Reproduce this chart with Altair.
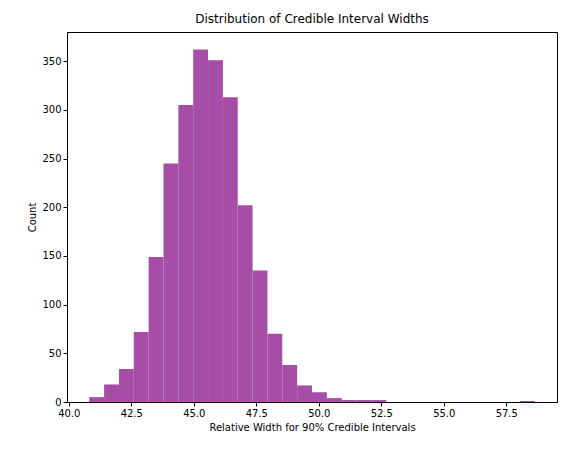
import pandas as pd
import altair as alt

bin_start = [40.820, 41.414, 42.008, 42.602, 43.196, 43.790, 44.384, 44.978, 45.572, 46.166,
             46.760, 47.354, 47.948, 48.542, 49.136, 49.730, 50.324, 50.918, 51.512, 52.106,
             52.700, 53.294, 53.888, 54.482, 55.076, 55.670, 56.264, 56.858, 57.452, 58.046]
bin_width = 0.594
counts = [5, 18, 34, 72, 149, 245, 305, 362, 351, 313,
          202, 135, 70, 38, 17, 10, 4, 2, 2, 2,
          0, 0, 0, 0, 0, 0, 0, 0, 0, 1]

df = pd.DataFrame({'lo': bin_start, 'count': counts})
df['hi'] = df['lo'] + bin_width

chart = alt.Chart(df).mark_rect(color='#a64da6').encode(
    x=alt.X('lo:Q', scale=alt.Scale(domain=[39.93, 59.53], nice=False, zero=False),
            axis=alt.Axis(values=[40.0, 42.5, 45.0, 47.5, 50.0, 52.5, 55.0, 57.5], format='.1f'),
            title='Relative Width for 90% Credible Intervals'),
    x2='hi:Q',
    y=alt.Y('count:Q', scale=alt.Scale(domain=[0, 380], nice=False),
            axis=alt.Axis(values=list(range(0, 351, 50))), title='Count'),
    y2=alt.datum(0),
).properties(
    width=490, height=370,
    title='Distribution of Credible Interval Widths',
    autosize='none',
    padding={'left': 59, 'top': 24, 'right': 6, 'bottom': 45},
).configure_view(stroke='black', strokeWidth=1).configure_axis(
    grid=False, domainColor='black', tickColor='black', labelColor='black',
    titleColor='black', labelFont='DejaVu Sans', titleFont='DejaVu Sans',
    labelFontSize=10, titleFontSize=10, titleFontWeight='normal', tickSize=4,
).configure_title(font='DejaVu Sans', fontSize=12, fontWeight='normal', offset=6)

chart.save("out.html", embed_options={"renderer": "svg", "actions": False})
